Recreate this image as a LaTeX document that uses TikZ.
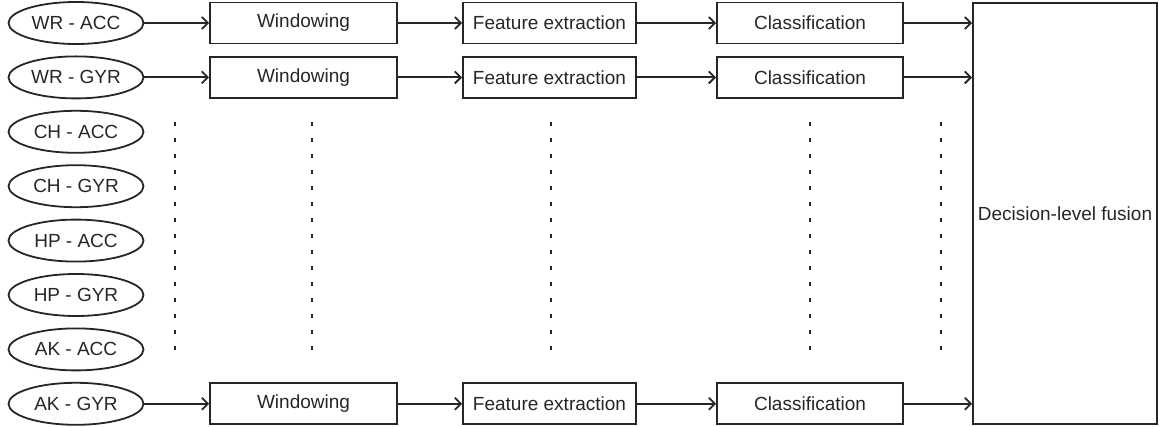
\documentclass[tikz,border=0pt]{standalone}
\usepackage{fontspec}
\setmainfont{Liberation Sans}
\usetikzlibrary{arrows.meta,shapes.geometric}
\definecolor{ink}{HTML}{262626}
\begin{document}
\begin{tikzpicture}[x=1pt,y=-1pt,
  every node/.style={font=\fontsize{19}{21}\selectfont, text=ink, inner sep=0pt},
  sensor/.style={ellipse, draw=ink, line width=1.8pt, minimum width=135pt, minimum height=42pt},
  procbox/.style={rectangle, draw=ink, line width=1.8pt, minimum height=41pt},
  winbox/.style={procbox, minimum width=187pt},
  featbox/.style={procbox, minimum width=173pt},
  clsbox/.style={procbox, minimum width=186pt},
  conn/.style={draw=ink, line width=1.8pt, -{Straight Barb[length=6pt,width=12pt,line width=1.8pt]}},
  dots/.style={draw=ink, line width=2pt, dash pattern=on 4pt off 12pt}]
\useasboundingbox (0,0) rectangle (1161,427);
% sensors
\node[sensor] (s1) at (76,23) {WR - ACC};
\node[sensor] (s2) at (76,77.4) {WR - GYR};
\node[sensor] (s3) at (76,131.8) {CH - ACC};
\node[sensor] (s4) at (76,186.2) {CH - GYR};
\node[sensor] (s5) at (76,240.6) {HP - ACC};
\node[sensor] (s6) at (76,295) {HP - GYR};
\node[sensor] (s7) at (76,349.4) {AK - ACC};
\node[sensor] (s8) at (76,403.8) {AK - GYR};
% processing chains
\node[winbox] (w1) at (303.5,23) {Windowing};
\node[winbox] (w2) at (303.5,77.4) {Windowing};
\node[winbox] (w8) at (303.5,403.8) {Windowing};
\node[featbox] (f1) at (549.5,23) {Feature extraction};
\node[featbox] (f2) at (549.5,77.4) {Feature extraction};
\node[featbox] (f8) at (549.5,403.8) {Feature extraction};
\node[clsbox] (c1) at (810,23) {Classification};
\node[clsbox] (c2) at (810,77.4) {Classification};
\node[clsbox] (c8) at (810,403.8) {Classification};
% fusion
\node[rectangle, draw=ink, line width=1.8pt, minimum width=184pt, minimum height=421pt] (fus) at (1065,213.5) {Decision-level fusion};
% connectors
\foreach \i in {1,2,8}{
  \draw[conn] (s\i) -- (w\i);
  \draw[conn] (w\i) -- (f\i);
  \draw[conn] (f\i) -- (c\i);
  \draw[conn] (c\i.east) -- (fus.west |- c\i.east);
}
% dotted ellipsis lines
\coordinate (d1t) at (175,122); \coordinate (d1b) at (175,352);
\coordinate (d2t) at (312,122); \coordinate (d2b) at (312,352);
\coordinate (d3t) at (551,122); \coordinate (d3b) at (551,352);
\coordinate (d4t) at (810,122); \coordinate (d4b) at (810,352);
\coordinate (d5t) at (941,122); \coordinate (d5b) at (941,352);
\foreach \k in {1,...,5}{ \draw[dots] (d\k t) -- (d\k b); }
\end{tikzpicture}
\end{document}
